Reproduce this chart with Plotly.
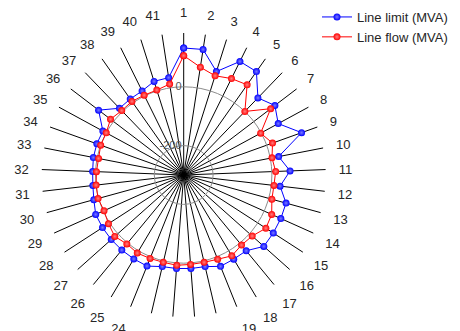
import plotly.graph_objects as go

categories = [str(i) for i in range(1, 42)]

line_limit = [132, 132, 69, 131, 130, 64, 90, 66, 126, 29,
              62, 30, 61, 62, 63, 65, 34, 33, 35, 20,
              19, 19, 20, 34, 32, 31, 30, 29, 28, 17,
              11, 10, 13, 14, 13, 64, 15, 16, 19, 34, 35]

line_flow = [106, 71, 54, 66, 75, 0, 72, -2, 21, 6,
             13, 9, 11, 28, 33, 12, 9, 20, 9, 5,
             5, 8, 5, 6, 9, 4, 14, 5, -3, 2,
             0, -3, -5, 0, 0, 13, 4, 6, 3, 3, 13]

radial_ticks = [-200, 0]
radial_range = [-300, 183]

W, H = 460, 331

fig = go.Figure()

def add_series(vals, name, color, light):
    fig.add_trace(go.Scatterpolar(
        r=vals + vals[:1],
        theta=categories + categories[:1],
        mode="lines+markers",
        name=name,
        line=dict(color=color, width=1),
        marker=dict(size=7, color=color, line=dict(width=0),
                    gradient=dict(type="radial", color=light)),
    ))

add_series(line_limit, "Line limit (MVA)", "#0000ff", "#7a7aff")
add_series(line_flow, "Line flow (MVA)", "#ff0000", "#ff8080")

fig.update_layout(
    width=W, height=H,
    margin=dict(l=0, r=0, t=0, b=0, autoexpand=False),
    paper_bgcolor="white",
    font=dict(family="Liberation Sans, Arial, sans-serif", size=13, color="#262626"),
    polar=dict(
        domain=dict(x=[41.7 / W, 325.7 / W], y=[14 / H, 1 - 33 / H]),
        bgcolor="white",
        angularaxis=dict(
            type="category",
            categoryarray=categories,
            direction="clockwise",
            rotation=90,
            showline=False,
            showgrid=True,
            gridcolor="black",
            gridwidth=1,
            ticks="outside",
            ticklen=10,
            tickcolor="rgba(0,0,0,0)",
            tickfont=dict(size=13, color="#262626"),
        ),
        radialaxis=dict(
            range=radial_range,
            tickvals=radial_ticks,
            ticktext=[str(v) for v in radial_ticks],
            showline=False,
            showgrid=True,
            gridcolor="#8c8c8c",
            gridwidth=1,
            ticks="",
            angle=90,
            tickangle=90,
            side="counterclockwise",
            tickfont=dict(size=11, color="#555555"),
        ),
    ),
    legend=dict(
        x=317 / W, y=1 - 2 / H,
        xanchor="left", yanchor="top",
        bgcolor="rgba(0,0,0,0)",
        borderwidth=0,
        font=dict(size=13, color="#262626"),
        tracegroupgap=0,
    ),
    showlegend=True,
)

fig.write_html("out.html", post_script="document.body.style.margin='0';",
               config={"displayModeBar": False})
